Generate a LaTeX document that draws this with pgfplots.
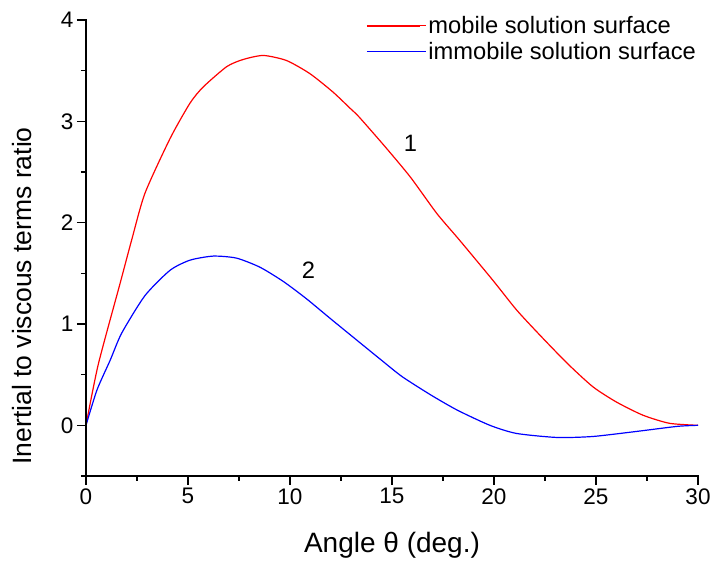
\documentclass[border=0pt]{standalone}
\usepackage{fontspec}
\setmainfont{Liberation Sans}
\usepackage{pgfplots}
\pgfplotsset{compat=1.18}
\begin{document}
\begin{tikzpicture}
\begin{axis}[
  scale only axis,
  width=612bp, height=456bp,
  xmin=0, xmax=30, ymin=-0.5, ymax=4,
  axis line style={draw=none},
  xtick pos=bottom, ytick pos=left,
  tick align=outside,
  xtick={0,5,...,30}, ytick={0,1,2,3,4},
  minor xtick={2.5,7.5,...,27.5}, minor ytick={-0.5,0.5,...,3.5},
  major tick length=9bp, minor tick length=5bp,
  every tick/.append style={black, line width=1.6bp},
  tick label style={font=\fontsize{22.5bp}{26bp}\selectfont},
  /pgf/number format/assume math mode=true,
  xlabel={Angle θ (deg.)},
  ylabel={Inertial to viscous terms ratio},
  xlabel style={font=\fontsize{28bp}{32bp}\selectfont,
    at={(axis description cs:0.5,-0.153)}, anchor=center},
  ylabel style={font=\fontsize{26.5bp}{30bp}\selectfont,
    at={(axis description cs:-0.1046,0.395)}, anchor=center},
  legend style={draw=none, at={(1.005,1.017)}, anchor=north east,
    font=\fontsize{23.7bp}{27bp}\selectfont, row sep=3bp},
  legend cell align=left,
  legend image code/.code={%
    \draw[#1, line width=1.5bp] (0bp,0bp) -- (53bp,0bp);
    \path (53bp,0bp) -- (59bp,0bp);},
  clip=false,
]
% curve 1
\addplot[color=red, line width=1.2bp, smooth, tension=0.4] coordinates {
  (0,0)(0.6,0.6)(1.67,1.40)(2.24,1.83)(2.89,2.29)(4.12,2.83)(5.1,3.18)
  (5.75,3.34)(6.9,3.54)(7.7,3.61)(8.69,3.65)(9.83,3.60)(10.98,3.47)
  (12.1,3.29)(12.94,3.13)(13.4,3.04)(14.66,2.75)
  (15.9,2.45)(17.2,2.09)(18.3,1.83)(19.95,1.43)(21.1,1.14)(22.25,0.89)
  (23.6,0.61)(24.85,0.38)(26.0,0.23)(27.3,0.10)(28.6,0.02)(30,0)
};
% curve 2
\addplot[color=blue, line width=1.2bp, smooth, tension=0.4] coordinates {
  (0,0)(0.54,0.35)(1.18,0.64)(1.75,0.91)(2.89,1.28)(4.12,1.53)(5.1,1.63)
  (6.24,1.67)(7.38,1.65)(8.53,1.56)(9.67,1.42)(10.8,1.25)(12.0,1.05)
  (13.4,0.82)(14.5,0.64)(15.5,0.48)(16.9,0.30)(18.2,0.15)(19.8,0.0)
  (21.1,-0.08)(23.1,-0.12)(24.85,-0.11)(27.0,-0.06)(29.0,-0.01)(30,0)
};
\legend{mobile solution surface, immobile solution surface}
\node[font=\fontsize{23.7bp}{27bp}\selectfont] at (axis cs:15.9,2.78) {1};
\node[font=\fontsize{23.7bp}{27bp}\selectfont] at (axis cs:10.9,1.53) {2};
% left and bottom axis lines only
\draw[line width=1.6bp, line cap=rect] (rel axis cs:0,1) -- (rel axis cs:0,0) -- (rel axis cs:1,0);
\coordinate (bl) at (rel axis cs:0,0);
\coordinate (tr) at (rel axis cs:1,1);
\end{axis}
\pgfresetboundingbox
\path ([shift={(-86bp,-86bp)}]bl) rectangle ([shift={(15bp,20bp)}]tr);
\end{tikzpicture}
\end{document}
